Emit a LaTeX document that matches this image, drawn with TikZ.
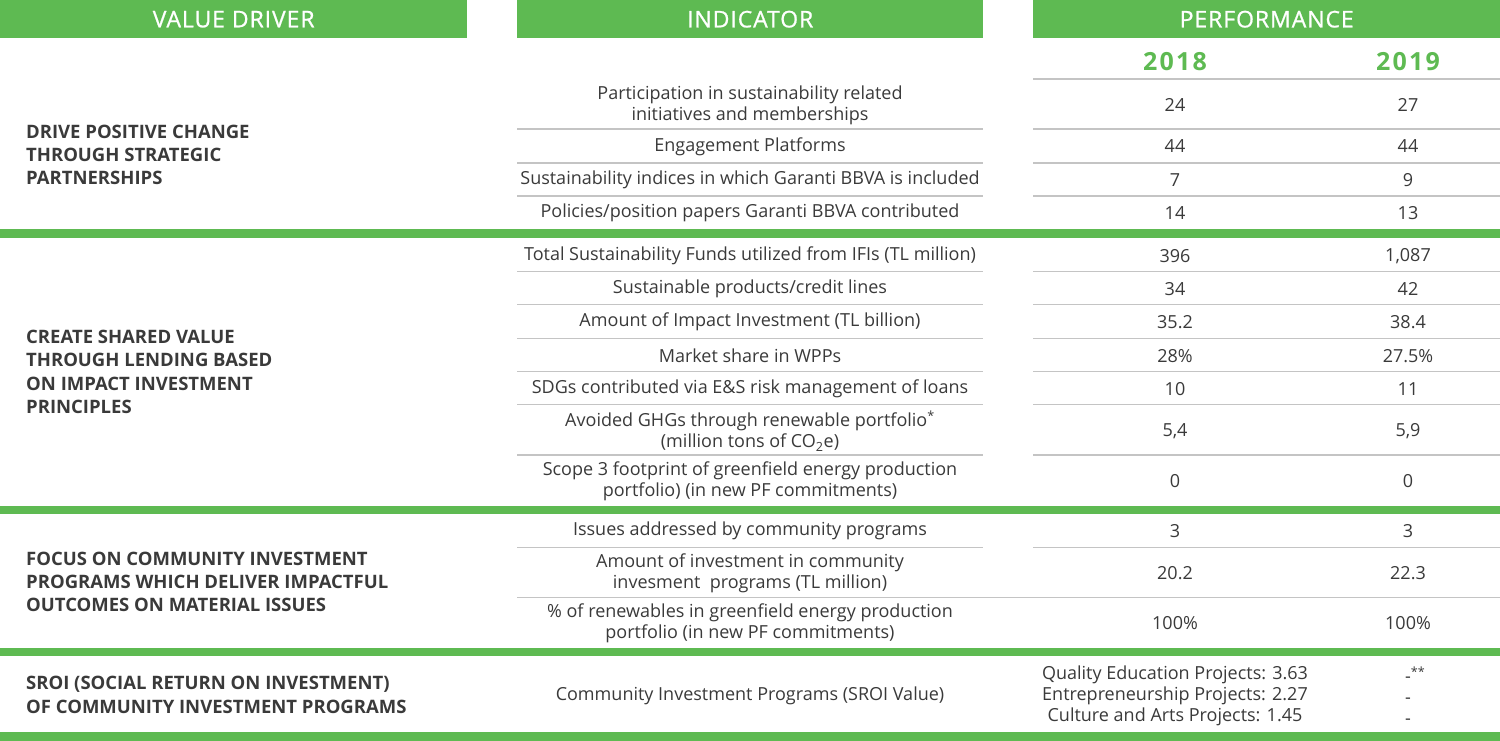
\documentclass[tikz,border=0pt]{standalone}
\usepackage{fontspec}
\setmainfont{Open Sans}
\newfontfamily\hdrfont[LetterSpace=4,FakeBold=0.8]{Open Sans}
\newfontfamily\yrfont[LetterSpace=9]{Open Sans Bold}
\definecolor{grn}{RGB}{94,186,82}
\definecolor{txt}{RGB}{58,58,58}
\definecolor{rulegray}{RGB}{196,196,196}
\begin{document}
\begin{tikzpicture}[x=1pt,y=-1pt,
  hdr/.style={fill=grn,draw=none,inner sep=0pt,anchor=north west,minimum height=38pt,text=white,font=\hdrfont\fontsize{23}{24}\selectfont},
  yr/.style={text=grn,inner sep=0pt,font=\yrfont\fontsize{25}{26}\selectfont},
  ind/.style={text=txt,inner sep=0pt,align=center,font=\fontsize{18}{21}\selectfont},
  val/.style={text=txt,inner sep=0pt,align=center,font=\fontsize{18}{21}\selectfont},
  vd/.style={text=txt,inner sep=0pt,align=left,anchor=west,font=\fontsize{18.5}{23.3}\selectfont\bfseries},
  sep/.style={rulegray,line width=1.4pt},
  bar/.style={fill=grn,draw=none}]
\useasboundingbox (0,0) rectangle (1500,741);
\fill[white] (0,0) rectangle (1500,741);
% headers
\node[hdr,minimum width=467pt] (hvd) at (0,0) {VALUE DRIVER};
\node[hdr,minimum width=466pt] (hind) at (517,0) {INDICATOR};
\node[hdr,minimum width=467pt] (hperf) at (1033,0) {PERFORMANCE};
\node[yr] (y18) at (1175,62) {2018};
\node[yr] (y19) at (1408,62) {2019};
\draw[sep] (1033,79) -- (1500,79);
% green bars
\fill[bar] (0,229) rectangle (1500,237.5);
\fill[bar] (0,505.5) rectangle (1500,513.5);
\fill[bar] (0,647.5) rectangle (1500,655.5);
\fill[bar] (0,732) rectangle (1500,741);
% gray rules
\foreach \yy in {129,163,196,271.7,304.7,338.3,371.7,404.7,455,547.7}{
  \draw[sep] (517,\yy) -- (983,\yy);
  \draw[sep] (1033,\yy) -- (1500,\yy);
}
\draw[sep] (517,597.7) -- (1500,597.7);
% section 1
\node[vd] (v1) at (26,155) {DRIVE POSITIVE CHANGE\\THROUGH STRATEGIC\\PARTNERSHIPS};
\node[ind] (i1) at (750,105) {Participation in sustainability related\\initiatives and memberships};
\node[ind] (i2) at (750,146.5) {Engagement Platforms};
\node[ind] (i3) at (750,180) {Sustainability indices in which Garanti BBVA is included};
\node[ind] (i4) at (750,213) {Policies/position papers Garanti BBVA contributed};
\node[val] (a1) at (1175,105) {24};   \node[val] (b1) at (1408,105) {27};
\node[val] (a2) at (1175,146.5) {44}; \node[val] (b2) at (1408,146.5) {44};
\node[val] (a3) at (1175,180) {7};    \node[val] (b3) at (1408,180) {9};
\node[val] (a4) at (1175,213) {14};   \node[val] (b4) at (1408,213) {13};
% section 2
\node[vd] (v2) at (26,372) {CREATE SHARED VALUE\\THROUGH LENDING BASED\\ON IMPACT INVESTMENT\\PRINCIPLES};
\node[ind] (i5) at (750,256) {Total Sustainability Funds utilized from IFIs (TL million)};
\node[ind] (i6) at (750,289) {Sustainable products/credit lines};
\node[ind] (i7) at (750,322) {Amount of Impact Investment (TL billion)};
\node[ind] (i8) at (750,356) {Market share in WPPs};
\node[ind] (i9) at (750,389) {SDGs contributed via E\&S risk management of loans};
\node[ind] (i10) at (750,431) {Avoided GHGs through renewable portfolio\textsuperscript{*}\\(million tons of CO\textsubscript{2}e)};
\node[ind] (i11) at (750,481) {Scope 3 footprint of greenfield energy production\\portfolio) (in new PF commitments)};
\node[val] (a5) at (1175,256) {396};   \node[val] (b5) at (1408,256) {1,087};
\node[val] (a6) at (1175,289) {34};    \node[val] (b6) at (1408,289) {42};
\node[val] (a7) at (1175,322) {35.2};  \node[val] (b7) at (1408,322) {38.4};
\node[val] (a8) at (1175,356) {28\%};  \node[val] (b8) at (1408,356) {27.5\%};
\node[val] (a9) at (1175,389) {10};    \node[val] (b9) at (1408,389) {11};
\node[val] (a10) at (1175,431) {5,4};  \node[val] (b10) at (1408,431) {5,9};
\node[val] (a11) at (1175,481) {0};    \node[val] (b11) at (1408,481) {0};
% section 3
\node[vd] (v3) at (26,581.7) {FOCUS ON COMMUNITY INVESTMENT\\PROGRAMS WHICH DELIVER IMPACTFUL\\OUTCOMES ON MATERIAL ISSUES};
\node[ind] (i12) at (750,531) {Issues addressed by community programs};
\node[ind] (i13) at (750,573) {Amount of investment in community\\invesment\ \ programs (TL million)};
\node[ind] (i14) at (750,623) {\% of renewables in greenfield energy production\\portfolio (in new PF commitments)};
\node[val] (a12) at (1175,531) {3};     \node[val] (b12) at (1408,531) {3};
\node[val] (a13) at (1175,573) {20.2};  \node[val] (b13) at (1408,573) {22.3};
\node[val] (a14) at (1175,623) {100\%}; \node[val] (b14) at (1408,623) {100\%};
% section 4
\node[vd] (v4) at (26,695) {SROI (SOCIAL RETURN ON INVESTMENT)\\OF COMMUNITY INVESTMENT PROGRAMS};
\node[ind] (i15) at (750,695.5) {Community Investment Programs (SROI Value)};
\node[val] (a15) at (1175,695.5) {Quality Education Projects: 3.63\\Entrepreneurship Projects: 2.27\\Culture and Arts Projects: 1.45};
\node[val] (b15) at (1408,695.5) {-\rlap{\textsuperscript{**}}\\-\\-};
\end{tikzpicture}
\end{document}
